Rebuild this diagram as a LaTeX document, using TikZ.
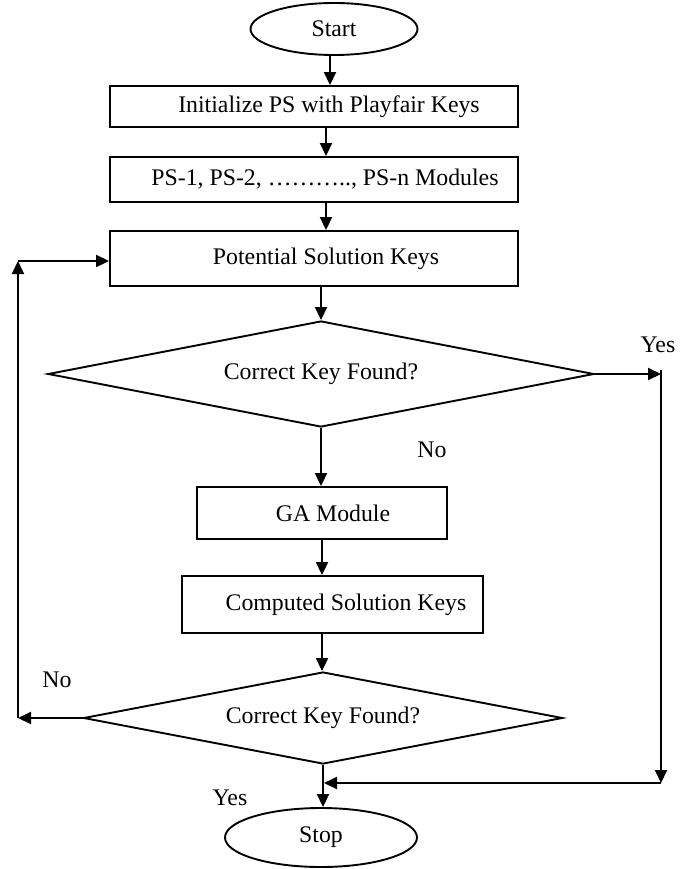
\documentclass[tikz,border=0pt]{standalone}
\usepackage{fontspec}
\setmainfont{Liberation Serif}
\usetikzlibrary{shapes.geometric,arrows.meta}
\begin{document}
\begin{tikzpicture}[x=1pt,y=-1pt,
  every node/.style={font=\fontsize{23.8}{28}\selectfont},
  base/.style={draw,line width=1.9pt,inner sep=0pt},
  box/.style={base,rectangle},
  oval/.style={base,ellipse},
  decision/.style={base,diamond},
  arr/.style={line width=1.9pt,-{Triangle[length=13pt,width=12pt]}},
  lbl/.style={inner sep=0pt}]
\useasboundingbox (0,0) rectangle (689,869);

% terminals
\node[oval,minimum width=167,minimum height=52] (start) at (334,29) {Start};
\node[oval,minimum width=192,minimum height=59] (stop) at (321,837.5) {Stop};

% process boxes
\node[box,minimum width=408,minimum height=41] (init) at (314,106.5)
  {\hspace*{30pt}Initialize PS with Playfair Keys};
\node[box,minimum width=408,minimum height=45] (mods) at (314,179.5)
  {\hspace*{22pt}PS-1, PS-2, ……….., PS-n Modules};
\node[box,minimum width=408,minimum height=55] (pot) at (314,258.5)
  {\hspace*{24pt}Potential Solution Keys};
\node[box,minimum width=250,minimum height=52] (ga) at (322,513)
  {\hspace*{22pt}GA Module};
\node[box,minimum width=301,minimum height=57] (comp) at (332.5,604.5)
  {\hspace*{27pt}Computed Solution Keys};

% decisions
\node[decision,aspect=5.15,minimum width=546,minimum height=106] (d1) at (321,374) {Correct Key Found?};
\node[decision,aspect=5.2,minimum width=479,minimum height=92] (d2) at (323,718) {Correct Key Found?};

% routing points
\coordinate (rt) at (661,374);
\coordinate (rb) at (661,783);
\coordinate (lb) at (18,718);
\coordinate (lt) at (18,261);

% main flow
\draw[arr] ([xshift=-4pt]start.south) -- ([xshift=16pt]init.north);
\draw[arr] ([xshift=12pt]init.south) -- ([xshift=12pt]mods.north);
\draw[arr] ([xshift=12pt]mods.south) -- ([xshift=12pt]pot.north);
\draw[arr] ([xshift=7pt]pot.south) -- (d1.north);
\draw[arr] (d1.south) -- (d1.south |- ga.north);
\draw[arr] (ga.south) -- (ga.south |- comp.north);
\draw[arr] (ga.south |- comp.south) -- (ga.south |- d2.north);
\draw[arr] (d2.south) -- (d2.south |- stop.north);

% yes branch of the first decision
\draw[arr] (d1.east) -- (rt);
\draw[arr] ([yshift=4pt]rt) -- (rb);
\draw[arr] (rb) -- ([xshift=1pt]d2.south |- rb);

% no branch of the second decision
\draw[arr] (d2.west) -- (lb);
\draw[arr] (lb) -- (lt);
\draw[arr] (lt) -- (lt -| pot.west);

% branch labels
\node[lbl] (yes1) at (658,345) {Yes};
\node[lbl] (no1) at (432,450) {No};
\node[lbl] (no2) at (57,680) {No};
\node[lbl] (yes2) at (230,798) {Yes};
\end{tikzpicture}
\end{document}
